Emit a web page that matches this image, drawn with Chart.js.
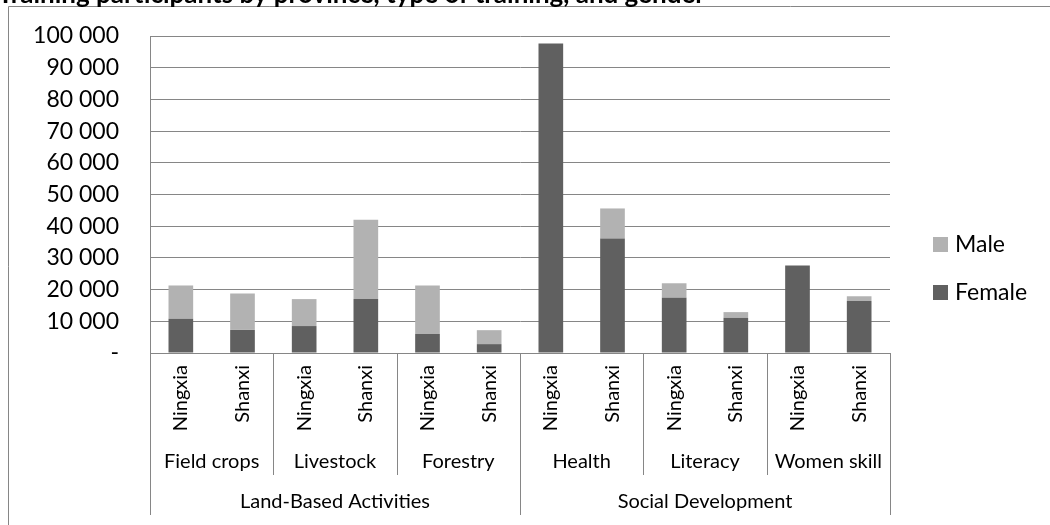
<!DOCTYPE html>
<html>
<head>
<meta charset="utf-8">
<script src="https://cdn.jsdelivr.net/npm/chart.js@4.4.1/dist/chart.umd.min.js"></script>
<style>
  html, body { margin: 0; padding: 0; background: #fff; }
  #wrap { width: 1050px; height: 525px; position: relative; }
</style>
</head>
<body>
<div id="wrap"><canvas id="c" width="1050" height="525"></canvas></div>
<script>
const chartTitle = 'Training participants by province, type of training, and gender';
const provinces = ['Ningxia', 'Shanxi'];
const trainingTypes = ['Field crops', 'Livestock', 'Forestry', 'Health', 'Literacy', 'Women skill'];
const sectors = ['Land-Based Activities', 'Social Development'];
const typesPerSector = [3, 3];
const seriesNames = ['Female', 'Male'];
const femaleValues = [10800, 7300, 8500, 17000, 6000, 2800, 97600, 36100, 17400, 11100, 27600, 16400];
const maleValues   = [10500, 11500, 8500, 25000, 15300, 4400, 0, 9500, 4600, 1800, 0, 1500];
const yTickLabels = ['-', '10 000', '20 000', '30 000', '40 000', '50 000', '60 000', '70 000', '80 000', '90 000', '100 000'];

const FONT = 'Lato';
const GRID = '#868686';
const COLORS = ['#606060', '#b2b2b2'];

const labels = [];
trainingTypes.forEach(() => provinces.forEach(p => labels.push(p)));

const decorPlugin = {
  id: 'decor',
  afterDraw(chart) {
    const ctx = chart.ctx;
    const xs = chart.scales.x;
    const area = chart.chartArea;
    const step = xs.getPixelForValue(1) - xs.getPixelForValue(0);
    const n = provinces.length;
    ctx.save();
    // outer frame
    ctx.strokeStyle = GRID;
    ctx.lineWidth = 1;
    ctx.beginPath();
    ctx.moveTo(8.5, 600);
    ctx.lineTo(8.5, 6.5);
    ctx.lineTo(1100, 6.5);
    ctx.stroke();
    // title (mostly cut off at the top)
    ctx.font = 'bold 26px ' + FONT;
    ctx.fillStyle = '#000';
    ctx.textBaseline = 'alphabetic';
    ctx.textAlign = 'right';
    ctx.fillText(chartTitle, 705, 3);
    // type separators & labels
    const axisY = area.bottom;
    const typeLineEnd = axisY + 122;
    const sectorLineEnd = axisY + 162;
    ctx.font = '20px ' + FONT;
    ctx.textAlign = 'center';
    ctx.textBaseline = 'middle';
    let sectorStarts = [0];
    let acc = 0;
    typesPerSector.forEach(c => { acc += c; sectorStarts.push(acc); });
    for (let t = 0; t <= trainingTypes.length; t++) {
      const x = Math.round(xs.getPixelForValue(t * n) - step / 2) + 0.5;
      const isSector = sectorStarts.includes(t);
      ctx.beginPath();
      ctx.moveTo(x, axisY);
      ctx.lineTo(x, isSector ? sectorLineEnd : typeLineEnd);
      ctx.stroke();
    }
    trainingTypes.forEach((name, t) => {
      const x0 = xs.getPixelForValue(t * n) - step / 2;
      const x1 = xs.getPixelForValue(t * n + n - 1) + step / 2;
      ctx.fillText(name, (x0 + x1) / 2, axisY + 109);
    });
    sectors.forEach((name, s) => {
      const x0 = xs.getPixelForValue(sectorStarts[s] * n) - step / 2;
      const x1 = xs.getPixelForValue(sectorStarts[s + 1] * n - 1) + step / 2;
      ctx.fillText(name, (x0 + x1) / 2, axisY + 149);
    });
    // legend (Male on top, Female below)
    ctx.font = '23px ' + FONT;
    ctx.textAlign = 'left';
    const order = [1, 0];
    order.forEach((di, k) => {
      const ds = chart.data.datasets[di];
      const lx = area.right + 43;
      const ly = 237 + k * 48;
      ctx.fillStyle = ds.backgroundColor;
      ctx.fillRect(lx, ly, 15, 15);
      ctx.fillStyle = '#000';
      ctx.fillText(ds.label, lx + 22, ly + 8);
    });
    ctx.restore();
  }
};

new Chart(document.getElementById('c'), {
  type: 'bar',
  data: {
    labels: labels,
    datasets: [
      { label: seriesNames[0], data: femaleValues, backgroundColor: COLORS[0] },
      { label: seriesNames[1], data: maleValues, backgroundColor: COLORS[1] }
    ]
  },
  options: {
    responsive: false,
    animation: false,
    devicePixelRatio: 1,
    layout: { padding: { left: 8, right: 160, top: 36, bottom: 0 } },
    datasets: { bar: { barPercentage: 0.4, categoryPercentage: 1.0 } },
    plugins: { legend: { display: false }, tooltip: { enabled: false } },
    scales: {
      x: {
        stacked: true,
        grid: { display: false, drawTicks: false },
        border: { color: GRID, width: 1 },
        ticks: {
          autoSkip: false, minRotation: 90, maxRotation: 90, padding: 12,
          color: '#000', font: { family: FONT, size: 20 }
        },
        afterFit(s) { s.height = 172; }
      },
      y: {
        stacked: true,
        min: 0, max: 100000,
        grid: { color: GRID, drawTicks: false },
        border: { color: GRID, width: 1 },
        ticks: {
          stepSize: 10000, padding: 31, color: '#000',
          font: { family: FONT, size: 23 },
          callback: (v, i) => yTickLabels[i]
        },
        afterFit(s) { s.width = 142; s.paddingTop = 14; s.paddingBottom = 14; }
      }
    }
  },
  plugins: [decorPlugin]
});
</script>
</body>
</html>
